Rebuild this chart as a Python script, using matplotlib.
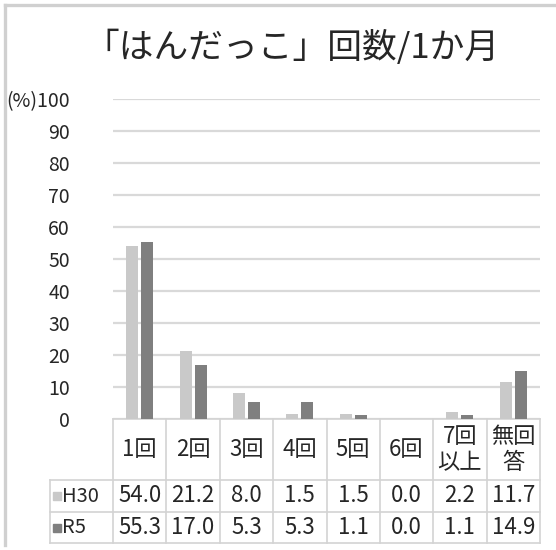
import matplotlib
matplotlib.use('Agg')
import matplotlib.pyplot as plt
from matplotlib.transforms import blended_transform_factory
from matplotlib.lines import Line2D
import numpy as np

plt.rcParams['font.family'] = ['Noto Sans CJK JP', 'DejaVu Sans']

title = '「はんだっこ」回数/1か月'
categories = ['1回', '2回', '3回', '4回', '5回', '6回', '7回\n以上', '無回\n答']
series_names = ['H30', 'R5']
h30 = [54.0, 21.2, 8.0, 1.5, 1.5, 0.0, 2.2, 11.7]
r5 = [55.3, 17.0, 5.3, 5.3, 1.1, 0.0, 1.1, 14.9]
yticks = [0, 10, 20, 30, 40, 50, 60, 70, 80, 90, 100]
ytick_labels = ['0', '10', '20', '30', '40', '50', '60', '70', '80', '90', '(%)100']

colors = ['#c9c9c9', '#7f7f7f']
text_color = '#262626'
line_color = '#d3d3d3'

W, H = 556, 550
fig = plt.figure(figsize=(W / 100, H / 100), dpi=100)
L, R, T, B = 113, 540, 99, 419
ax = fig.add_axes([L / W, 1 - B / H, (R - L) / W, (B - T) / H])

x = np.arange(len(categories))
w = 0.225
off = 0.14
ax.bar(x - off, h30, w, color=colors[0], zorder=3)
ax.bar(x + off, r5, w, color=colors[1], zorder=3)

ax.set_xlim(-0.5, len(categories) - 0.5)
ax.set_ylim(0, 100)
ax.set_yticks(yticks)
ax.set_yticklabels(ytick_labels, fontsize=14, color=text_color)
ax.tick_params(axis='y', length=0, pad=31)
ax.set_xticks([])
for s in ax.spines.values():
    s.set_visible(False)
ax.yaxis.grid(True, color='#d9d9d9', lw=1.6)
ax.set_axisbelow(True)

# data table
tr = blended_transform_factory(ax.transData, ax.transAxes)
ph = B - T
y0 = 0
y1 = (B - 480) / ph
y2 = (B - 512) / ph
y3 = (B - 543) / ph
colw = (R - L) / len(categories)


def px2d(px):
    return -0.5 + (px - L) / colw


xl = px2d(50)
xr = len(categories) - 0.5
kw = dict(color=line_color, lw=1.2, transform=tr, clip_on=False)
ax.plot([-0.5, xr], [y0, y0], **kw)
for yy in (y1, y2, y3):
    ax.plot([xl, xr], [yy, yy], **kw)
ax.plot([xl, xl], [y1, y3], **kw)
for i in range(len(categories) + 1):
    ax.plot([i - 0.5, i - 0.5], [y0, y3], **kw)

for i, c in enumerate(categories):
    ax.text(i, (y0 + y1) / 2, c, transform=tr, ha='center', va='center',
            fontsize=16, color=text_color, linespacing=1.15)
    ax.text(i, (y1 + y2) / 2, f'{h30[i]:.1f}', transform=tr, ha='center',
            va='center', fontsize=16, color=text_color)
    ax.text(i, (y2 + y3) / 2, f'{r5[i]:.1f}', transform=tr, ha='center',
            va='center', fontsize=16, color=text_color)

for k, (name, ymid) in enumerate(zip(series_names, [(y1 + y2) / 2, (y2 + y3) / 2])):
    ax.plot([px2d(57)], [ymid], marker='s', ms=5.5, color=colors[k],
            transform=tr, clip_on=False, ls='none')
    ax.text(px2d(62), ymid, name, transform=tr, ha='left', va='center',
            fontsize=14.5, color=text_color)

# title
fig.text(292 / W, 1 - 48 / H, title, ha='center', va='center',
         fontsize=25, color=text_color)

# chart-area border (top and left visible)
fig.add_artist(Line2D([5 / W, 1], [1 - 5 / H, 1 - 5 / H], color='#d0d0d0',
                      lw=2.4, transform=fig.transFigure))
fig.add_artist(Line2D([5 / W, 5 / W], [1 - 5 / H, 1 - 545 / H], color='#d0d0d0',
                      lw=2.4, transform=fig.transFigure))

fig.savefig('out.png', dpi=100)
